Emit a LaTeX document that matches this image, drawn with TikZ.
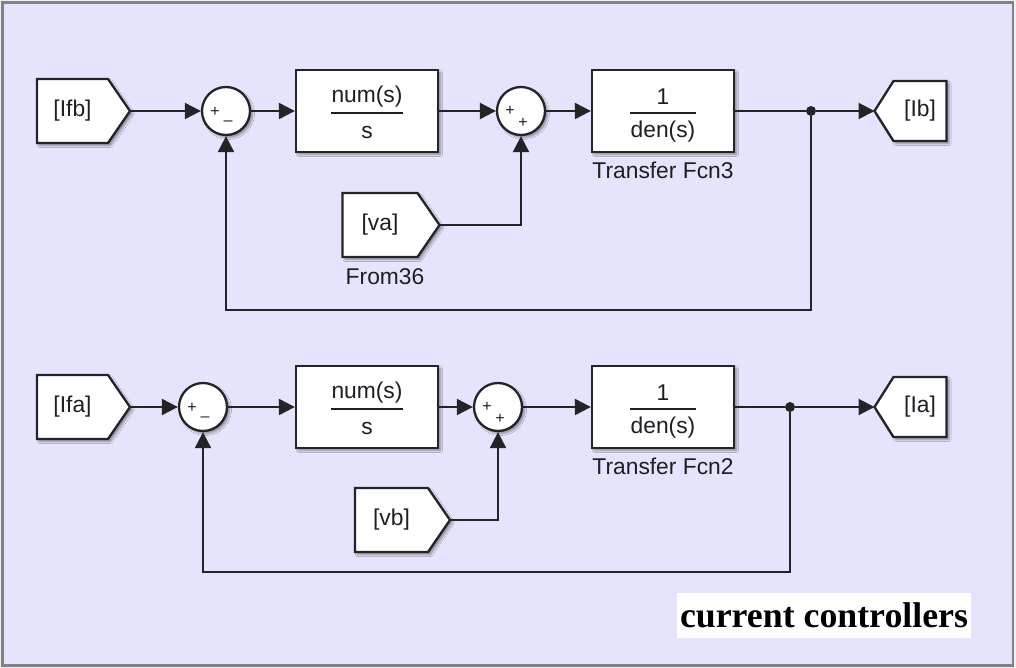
\documentclass[tikz,border=0pt]{standalone}
\usepackage{fontspec}
\setmainfont{Liberation Sans}
\newfontfamily\titleserif{Liberation Serif}
\usetikzlibrary{arrows.meta,calc,shadows.blur}

\definecolor{canvas}{RGB}{228,228,252}
\definecolor{wire}{RGB}{36,36,40}
\definecolor{framegray}{RGB}{130,130,134}
\definecolor{ink}{RGB}{30,30,36}

\newcommand\lblfont{\fontsize{22.8}{26}\selectfont}
\newcommand\signfont{\fontsize{16}{18}\selectfont}
\newcommand\ccfont{\titleserif\bfseries\fontsize{35.8}{40}\selectfont}

\tikzset{
  wire/.style={draw=wire, line width=2.1pt},
  sig/.style={wire, -{Triangle[length=16pt,width=16pt]}},
  blk/.style={draw=wire, line width=2.3pt, fill=white,
    blur shadow={shadow xshift=2.5pt, shadow yshift=-2.5pt,
      shadow blur radius=2pt, shadow blur steps=6, shadow opacity=40}},
  tfbox/.style={blk, rectangle, minimum width=142pt, minimum height=82pt, inner sep=0pt},
  sumnode/.style={blk, circle, minimum size=48pt, inner sep=0pt},
  tagbody/.style={rectangle, minimum height=60pt, inner sep=0pt, font=\lblfont, text=ink},
  lbl/.style={font=\lblfont, text=ink, inner sep=0pt},
  sign/.style={font=\signfont, text=ink, inner sep=0pt},
  junction/.style={circle, fill=wire, inner sep=0pt, minimum size=10pt},
  fracrule/.style={draw=ink, line width=1.7pt},
}

% From block: flat left side, pointed right side; tip coordinate is <name>-tip
\newcommand\fromtag[4]{%
  \coordinate (#1-c) at (#2);
  \draw[blk] ($(#1-c)+(-#3/2,-32)$) -- ++(#3,0) -- ++(22,32) coordinate (#1-tip)
     -- ++(-22,32) -- ++(-#3,0) -- cycle;
  \node[tagbody, minimum width=#3 pt] (#1) at (#1-c) {#4};
}
% Goto block: pointed left side, flat right side
\newcommand\gototag[3]{%
  \coordinate (#1-c) at (#2);
  \draw[blk] ($(#1-c)+(26.5,-30)$) -- ++(-53,0) -- ++(-19,30) coordinate (#1-tip)
     -- ++(19,30) -- ++(53,0) -- cycle;
  \node[tagbody, minimum width=53pt] (#1) at (#1-c) {#3};
}
% Transfer-function block with a stacked fraction
\newcommand\tfblock[4]{%
  \node[tfbox] (#1) at (#2) {};
  \node[lbl] (#1-num) at ($(#1)+(0,-14)$) {#3};
  \node[lbl] (#1-den) at ($(#1)+(0,21)$) {#4};
}

\begin{document}
\begin{tikzpicture}[x=1pt,y=-1pt]
  \useasboundingbox (0,0) rectangle (1016,668);
  \fill[white!94!black] (0,0) rectangle (1016,668);
  \draw[draw=framegray, fill=canvas, line width=2.6pt] (2.5,2.5) rectangle (1013,665.5);

  % ---------- upper loop ----------
  \fromtag{ifb}{72.5,111}{71}{[Ifb]}
  \node[sumnode] (s1) at (226,111) {};
  \node[sign] at ($(s1)+(-11,1)$) {+};
  \node[sign] at ($(s1)+(2,12)$) {--};
  \tfblock{c1}{367,111}{num(s)}{s}
  \draw[fracrule] ($(c1)+(-36,2)$) -- ++(72,0);
  \node[sumnode] (s2) at (521,111) {};
  \node[sign] at ($(s2)+(-11,0)$) {+};
  \node[sign] at ($(s2)+(2,12)$) {+};
  \tfblock{p1}{663,111}{1}{den(s)}
  \draw[fracrule] ($(p1)+(-33,2)$) -- ++(66,0);
  \node[lbl] (tf3) at (663,170) {Transfer Fcn3};
  \node[junction] (j1) at (811,111) {};
  \gototag{ib}{920,111}{[Ib]}
  \fromtag{va}{380,225}{75}{[va]}
  \node[lbl] (from36) at (385,277) {From36};
  \coordinate (fb1) at (811,310);

  \draw[sig] (ifb-tip) -- (s1.west);
  \draw[sig] (s1.east) -- (c1.west);
  \draw[sig] (c1.east) -- (s2.west);
  \draw[sig] (s2.east) -- (p1.west);
  \draw[wire] (p1.east) -- (j1);
  \draw[sig] (j1) -- (ib-tip);
  \draw[sig] (j1) -- (fb1) -| (s1.south);
  \draw[sig] (va-tip) -| (s2.south);

  % ---------- lower loop ----------
  \fromtag{ifa}{72.5,407}{71}{[Ifa]}
  \node[sumnode] (s3) at (203,407) {};
  \node[sign] at ($(s3)+(-11,1)$) {+};
  \node[sign] at ($(s3)+(2,12)$) {--};
  \tfblock{c2}{367,407}{num(s)}{s}
  \draw[fracrule] ($(c2)+(-36,2)$) -- ++(72,0);
  \node[sumnode] (s4) at (498,407) {};
  \node[sign] at ($(s4)+(-11,0)$) {+};
  \node[sign] at ($(s4)+(2,12)$) {+};
  \tfblock{p2}{663,407}{1}{den(s)}
  \draw[fracrule] ($(p2)+(-33,2)$) -- ++(66,0);
  \node[lbl] (tf2) at (663,466) {Transfer Fcn2};
  \node[junction] (j2) at (790,407) {};
  \gototag{ia}{920,407}{[Ia]}
  \fromtag{vb}{391.5,520}{73}{[vb]}
  \coordinate (fb2) at (790,572);

  \draw[sig] (ifa-tip) -- (s3.west);
  \draw[sig] (s3.east) -- (c2.west);
  \draw[sig] (c2.east) -- (s4.west);
  \draw[sig] (s4.east) -- (p2.west);
  \draw[wire] (p2.east) -- (j2);
  \draw[sig] (j2) -- (ia-tip);
  \draw[sig] (j2) -- (fb2) -| (s3.south);
  \draw[sig] (vb-tip) -| (s4.south);

  % ---------- caption ----------
  \node[fill=white, inner sep=0pt, minimum width=294pt, minimum height=45pt, font=\ccfont, text=black]
    (caption) at (824,615.5) {current controllers};
\end{tikzpicture}
\end{document}
